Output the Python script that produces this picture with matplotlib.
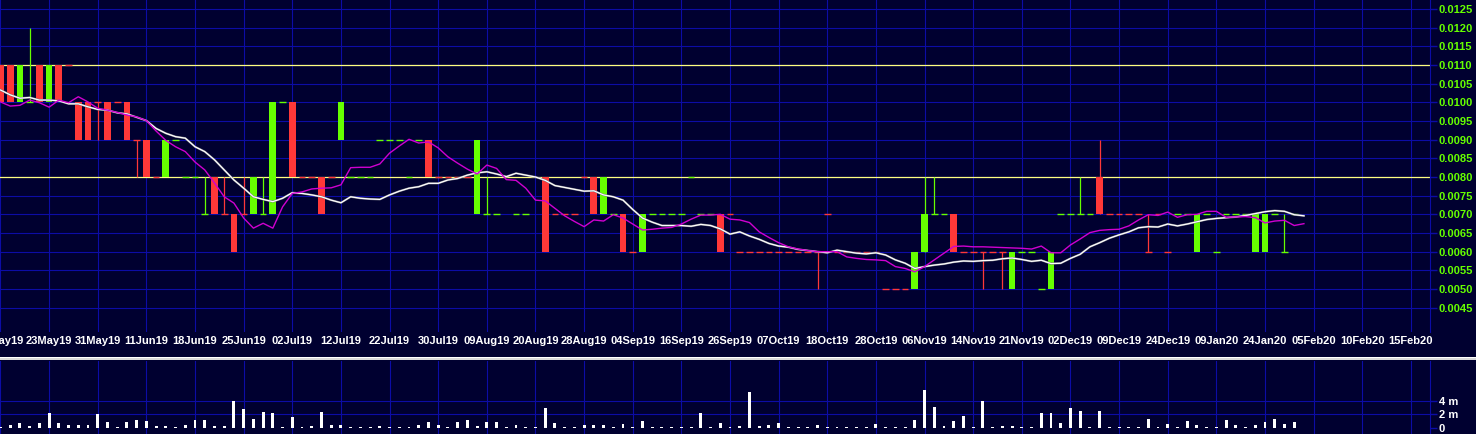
import numpy as np
import matplotlib; matplotlib.use("Agg")
import matplotlib.pyplot as plt
from matplotlib.patches import Rectangle

nan = np.nan

# prices in units of 0.0001 (one candle per trading day, index = x position)
opens = [110,110,100,100,110,100,110,110,100,100, 100,100,100,100,90,90,80,80,90,80,
         80,70,80,70,70,70,70,70,70,100, 100,80,80,80,80,90,80,80,80,90,
         90,90,80,90,90,80,80,80,80,70, 70,70,nan,70,70,nan,80,70,70,70,
         80,80,70,70,70,60,60,70,70,70, 70,80,70,70,70,70,60,60,60,60,
         60,60,60,60,60,70,60,60,60,60, 60,50,50,50,50,60,70,70,70,60,
         60,60,60,60,50,60,60,50,50,70, 70,70,70,80,70,70,70,70,60,70,
         60,70,70,60,70,60,70,70,70,60, 60,70,60,70,nan]
highs = [110,110,110,120,110,110,110,110,100,100, 100,100,100,100,90,90,80,90,90,80,
         80,80,80,80,70,80,80,80,100,100, 100,80,80,80,80,100,80,80,80,90,
         90,90,80,90,90,80,80,80,80,90, 80,70,nan,70,70,nan,80,70,70,70,
         80,80,80,70,70,60,70,70,70,70, 70,80,70,70,70,70,60,60,60,60,
         60,60,60,60,60,70,60,60,60,60, 60,50,50,50,60,80,80,70,70,60,
         60,60,60,60,60,60,60,50,60,70, 70,80,70,90,70,70,70,70,70,70,
         60,70,70,70,70,60,70,70,70,70, 70,70,70,70,nan]
lows = [100,100,100,100,100,100,100,110,90,90, 90,90,100,90,80,80,80,80,90,80,
        80,70,70,70,60,70,70,70,70,100, 80,80,80,70,80,90,80,80,80,90,
        90,90,80,90,80,80,80,80,80,70, 70,70,nan,70,70,nan,60,70,70,70,
        80,70,70,70,60,60,60,70,70,70, 70,80,70,70,60,70,60,60,60,60,
        60,60,60,60,50,70,60,60,60,60, 60,50,50,50,50,60,70,70,60,60,
        60,50,60,50,50,60,60,50,50,70, 70,70,70,70,70,70,70,70,60,70,
        60,70,70,60,70,60,70,70,70,60, 60,70,60,70,nan]
closes = [100,100,110,100,100,110,100,110,90,90, 100,90,100,90,90,80,80,90,90,80,
          80,70,70,70,60,70,80,70,100,100, 80,80,80,70,80,100,80,80,80,90,
          90,90,80,90,80,80,80,80,80,90, 70,70,nan,70,70,nan,60,70,70,70,
          80,70,80,70,60,60,70,70,70,70, 70,80,70,70,60,70,60,60,60,60,
          60,60,60,60,60,70,60,60,60,60, 60,50,50,50,60,70,70,70,60,60,
          60,60,60,60,60,60,60,50,60,70, 70,70,70,70,70,70,70,70,60,70,
          60,70,70,70,70,60,70,70,70,70, 70,70,60,70,nan]
up = [0,0,1,1,0,1,0,0,0,0, 0,0,0,0,0,0,0,1,1,1, 1,1,0,0,0,0,1,1,1,1,
      0,0,0,0,0,1,1,1,1,1, 1,1,1,1,0,0,0,0,0,1, 1,1,0,1,1,0,0,0,0,0,
      0,0,1,1,0,0,1,1,1,1, 1,1,1,1,0,0,0,0,0,0, 0,0,0,0,0,0,0,0,0,0,
      0,0,0,0,1,1,1,1,0,0, 0,0,0,0,1,1,1,1,1,1, 1,1,1,0,0,0,0,0,0,0,
      0,1,1,1,1,1,1,1,1,1, 1,1,1,1,0]
ma_fast = [100.1,99.0,99.2,100.6,99.9,98.7,100.6,99.9,101.5,100.1,
           98.4,97.9,97.3,96.6,96.1,95.1,92.3,89.8,88.1,86.8,
           84.0,81.9,78.4,74.7,73.0,69.0,66.3,67.6,66.3,72.0,
           75.6,76.0,76.8,77.0,77.1,77.9,82.5,82.6,82.6,83.5,
           86.4,88.3,90.1,89.1,89.4,87.8,85.4,83.7,82.1,80.8,
           83.2,82.3,79.3,79.1,77.0,73.8,73.6,71.6,69.6,68.1,
           66.7,68.5,68.2,69.9,69.0,67.4,65.8,66.0,66.3,66.5,
           67.4,68.7,69.8,69.8,70.0,68.7,68.5,67.8,65.3,63.8,
           62.4,61.3,60.7,60.3,60.0,60.0,60.0,58.6,58.2,57.9,
           57.8,57.6,56.0,55.5,54.6,56.0,57.8,59.6,61.4,61.5,
           61.3,61.3,61.2,61.1,61.0,60.9,60.7,61.5,59.7,59.7,
           61.8,63.4,65.1,65.7,65.9,66.0,66.9,68.5,69.9,69.7,
           70.6,69.2,69.9,70.0,70.8,70.8,69.2,69.3,69.4,69.1,
           67.7,68.2,68.4,67.0,67.5]
ma_slow = [103.3,102.0,101.1,101.3,100.6,100.6,100.4,99.6,99.6,98.8,
           98.1,97.9,97.2,96.9,96.0,95.1,93.0,91.7,90.8,90.4,
           88.1,86.8,84.6,81.9,79.2,77.0,74.7,74.0,73.4,74.3,
           75.8,75.6,75.2,74.7,73.8,73.1,74.7,74.3,74.1,74.0,
           75.2,76.2,77.0,77.4,78.3,78.3,79.2,79.6,80.5,81.1,
           81.4,80.8,80.1,81.0,80.5,80.0,79.1,77.7,77.2,76.7,
           76.2,76.3,75.2,74.7,73.8,71.3,69.0,67.9,67.0,67.0,
           67.0,66.8,67.3,67.0,66.1,64.7,65.3,64.2,63.3,62.2,
           61.5,61.2,60.6,60.3,60.0,59.7,60.4,60.0,59.6,59.4,
           59.7,59.1,57.8,56.9,55.5,56.0,56.4,56.7,57.2,57.5,
           57.4,57.6,57.7,58.1,58.3,57.9,57.4,57.7,56.8,56.9,
           58.2,59.3,61.3,62.4,63.6,64.5,65.3,66.4,66.7,66.6,
           67.4,66.9,67.4,68.0,68.6,68.9,69.1,69.3,69.7,70.2,
           70.7,71.0,70.8,69.9,69.6]
# volume in millions
volume = [0.15,0.35,0.7,0.2,0.7,2.2,0.7,0.35,0.35,0.35, 2.0,0.85,0.15,0.85,1.15,1.0,0.2,0.2,0.15,0.4,
          1.15,1.15,0.2,0.2,4.0,2.8,1.3,2.35,2.2,0.15, 1.6,0.15,0.2,2.35,0.4,0.4,0.15,0.15,0.15,0.2,
          0.15,0.15,0.15,0.35,0.85,0.35,0.15,0.85,1.15,0.2, 0.85,0.85,0.15,0.35,0.15,0.15,2.9,0.7,0.15,0.15,
          0.35,0.35,0.35,0.15,0.5,0.15,1.0,0.15,0.15,0.15, 0.15,0.15,2.2,0.15,0.7,0.15,0.2,5.25,0.2,0.35,
          0.7,0.15,0.15,0.15,0.35,0.15,0.15,0.15,0.15,0.15, 0.5,0.15,0.15,0.15,1.15,5.5,3.0,0.25,1.0,1.75,
          0.15,3.9,0.15,0.2,0.2,0.15,0.15,2.1,2.1,0.7, 2.85,2.5,0.15,2.5,0.15,0.15,0.15,0.15,1.25,0.15,
          0.5,0.15,1.0,0.35,0.15,0.15,1.15,0.35,0.15,0.35, 0.85,1.25,0.55,0.85,nan]
levels = [0.0110, 0.0080]
price_ticks = [0.0045, 0.0050, 0.0055, 0.0060, 0.0065, 0.0070, 0.0075, 0.0080, 0.0085,
               0.0090, 0.0095, 0.0100, 0.0105, 0.0110, 0.0115, 0.0120, 0.0125]
vol_ticks, vol_labels = [0, 2, 4], ["0", "2 m", "4 m"]
date_labels = ["13May19", "23May19", "31May19", "11Jun19", "18Jun19", "25Jun19", "02Jul19",
               "12Jul19", "22Jul19", "30Jul19", "09Aug19", "20Aug19", "28Aug19", "04Sep19",
               "16Sep19", "26Sep19", "07Oct19", "18Oct19", "28Oct19", "06Nov19", "14Nov19",
               "21Nov19", "02Dec19", "09Dec19", "24Dec19", "09Jan20", "24Jan20", "05Feb20",
               "10Feb20", "15Feb20"]

BG, GRID = "#000030", "#0c0ca6"
RED, GREEN = "#ff3838", "#66ff00"
FONT = ["Liberation Sans", "DejaVu Sans"]
FS = 8.0

o, h, l, c = (np.array(a, float) / 1e4 for a in (opens, highs, lows, closes))
up = np.array(up, bool)
x = np.arange(len(o))
ok = ~np.isnan(o)
col = np.where(up, GREEN, RED)
W = 0.69

fig = plt.figure(figsize=(14.76, 4.34), dpi=100, facecolor=BG)
ax = fig.add_axes([0, 102 / 434, 1430 / 1476, 332 / 434], facecolor=BG)
axv = fig.add_axes([0, 0, 1430 / 1476, 73 / 434], facecolor=BG)

for a in (ax, axv):
    a.set_xlim(-0.05, 146.96)
    a.set_xticks(np.arange(0, 146, 5))
    for s in ("top", "left", "bottom"):
        a.spines[s].set_visible(False)
    a.spines["right"].set_color(GRID)
    a.yaxis.tick_right()
    a.tick_params(axis="y", length=5, width=1, color=GRID, pad=1.2)
    a.tick_params(axis="x", length=0)
    a.grid(axis="x", color=GRID, lw=0.8, zorder=0)
    a.set_axisbelow(True)

# main price panel
ax.set_ylim(0.003848, 0.012741)
ax.set_yticks(price_ticks)
ax.set_yticklabels([f"{v:.4f}" for v in price_ticks], color=GREEN, fontsize=FS,
                   fontweight="bold", family=FONT)
ax.grid(axis="y", color=GRID, lw=0.8, zorder=0)
ax.set_xticklabels(date_labels, color="white", fontsize=FS, fontweight="bold", family=FONT)
ax.tick_params(axis="x", pad=3.2)

for lv in levels:
    ax.axhline(lv, color="#ffff80", lw=0.9, zorder=1)

body = ok & (o != c)
ax.bar(x[body], (c - o)[body], bottom=o[body], width=W, color=col[body], zorder=3)
flat = ok & (o == c)
ax.hlines(o[flat], x[flat] - W / 2, x[flat] + W / 2, colors=col[flat], lw=1.0, zorder=3)
wick = ok & ((h > np.maximum(o, c)) | (l < np.minimum(o, c)))
ax.vlines(x[wick], l[wick], h[wick], colors=col[wick], lw=0.9, zorder=2)

ax.plot(x, np.array(ma_slow) / 1e4, color="#70707c", lw=1.5, zorder=4)
ax.plot(x, np.array(ma_slow) / 1e4, color="white", lw=0.9, zorder=5)
ax.plot(x, np.array(ma_fast) / 1e4, color="#d000d0", lw=1.0, zorder=5)

# volume panel
axv.set_ylim(-0.96, 9.85)
axv.set_yticks(vol_ticks)
axv.set_yticklabels(vol_labels, color="white", fontsize=FS, fontweight="bold", family=FONT)
axv.set_xticklabels([])
for g in vol_ticks[1:]:
    axv.axhline(g, color=GRID, lw=0.8, zorder=0)
axv.bar(x, volume, width=0.3, color="white", zorder=3)

# separator bar between panels
fig.add_artist(Rectangle((0, 74 / 434), 1, 3 / 434, transform=fig.transFigure,
                         facecolor="#d8d8d8", edgecolor="none"))
fig.add_artist(Rectangle((0, 76 / 434), 1, 1 / 434, transform=fig.transFigure,
                         facecolor="#ffffff", edgecolor="none"))

fig.savefig("out.png", dpi=100, facecolor=BG)
